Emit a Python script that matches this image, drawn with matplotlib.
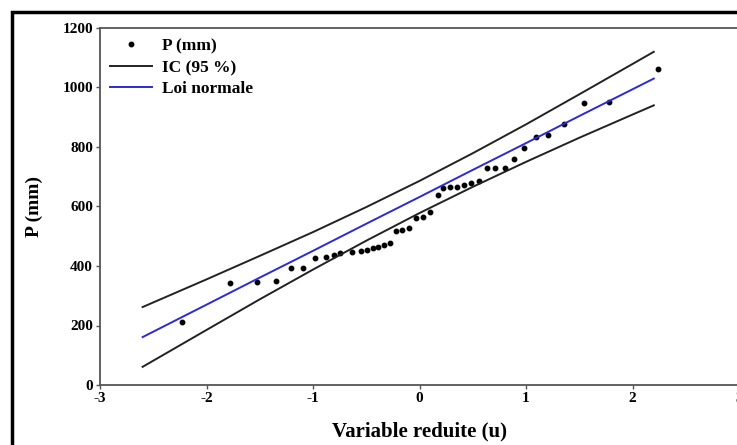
import matplotlib
matplotlib.use("Agg")
import matplotlib.pyplot as plt
from matplotlib.patches import Rectangle

# observed values: reduced variable u and rainfall P (mm)
u_obs = [-2.23, -1.78, -1.53, -1.35, -1.21, -1.09, -0.98, -0.88, -0.80, -0.75,
         -0.63, -0.55, -0.49, -0.44, -0.39, -0.33, -0.28, -0.22, -0.16, -0.10,
         -0.03, 0.03, 0.10, 0.17, 0.22, 0.29, 0.35, 0.42, 0.48, 0.56,
         0.63, 0.71, 0.80, 0.89, 0.98, 1.09, 1.21, 1.36, 1.54, 1.78, 2.24]
p_obs = [211, 342, 347, 351, 392, 392, 426, 430, 436, 445,
         448, 450, 455, 460, 465, 470, 478, 517, 521, 527,
         560, 566, 582, 640, 663, 664, 667, 672, 678, 685,
         728, 729, 730, 758, 796, 834, 840, 876, 948, 951, 1062]

# fitted normal law and 95 % confidence band
u_fit = [-2.6, -2.0, -1.5, -1.0, -0.5, 0.0, 0.5, 1.0, 1.5, 2.0, 2.2]
p_norm = [161, 270, 361, 451, 542, 632, 723, 813, 904, 994, 1030]
p_up = [262, 355, 434, 514, 598, 686, 779, 876, 977, 1079, 1120]
p_lo = [61, 185, 288, 388, 485, 578, 666, 750, 831, 909, 940]

plt.rcParams["font.family"] = ["Liberation Serif", "DejaVu Serif"]
plt.rcParams["font.weight"] = "bold"
plt.rcParams["axes.unicode_minus"] = False

fig = plt.figure(figsize=(7.37, 4.45), dpi=100)
# outer black frame of the original picture
fig.patches.append(Rectangle((12 / 737, -0.05), 1.1, (445 - 12) / 445 + 0.05,
                             transform=fig.transFigure, fill=False,
                             edgecolor="black", lw=2.5, zorder=10))

ax = fig.add_axes([100 / 737, 60 / 445, 639 / 737, 357 / 445])
ax.plot(u_obs, p_obs, "o", color="black", ms=3.2, ls="none", label="P (mm)")
ax.plot(u_fit, p_up, color="#222222", lw=1.4, label="IC (95 %)")
ax.plot(u_fit, p_lo, color="#222222", lw=1.4)
ax.plot(u_fit, p_norm, color="#2b2bd6", lw=1.4, label="Loi normale")

ax.set_xlim(-3, 3)
ax.set_ylim(0, 1200)
ax.set_xticks([-3, -2, -1, 0, 1, 2, 3])
ax.set_yticks(range(0, 1201, 200))
for s in ax.spines.values():
    s.set_color("#555555")
    s.set_linewidth(1.3)
ax.tick_params(direction="out", length=3, width=1.0, color="#555555",
               labelsize=11, pad=2)
for lab in ax.get_xticklabels() + ax.get_yticklabels():
    lab.set_fontweight("bold")

ax.set_xlabel("Variable reduite (u)", fontsize=15, fontweight="bold", labelpad=12)
ax.set_ylabel("P (mm)", fontsize=14, fontweight="bold", labelpad=14)

leg = ax.legend(loc="upper left", frameon=False, fontsize=12.5,
                handlelength=2.4, handletextpad=0.6, labelspacing=0.3,
                borderaxespad=0.2, bbox_to_anchor=(0.0, 1.0))
for t in leg.get_texts():
    t.set_fontweight("bold")

fig.savefig("out.png", dpi=100)
